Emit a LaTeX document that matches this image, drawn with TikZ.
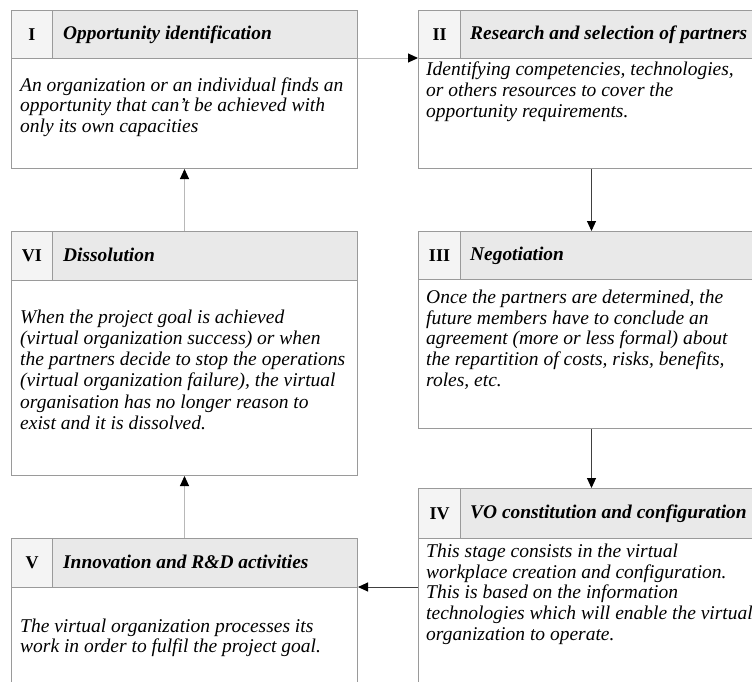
\documentclass[tikz,border=0pt]{standalone}
\usepackage{fontspec}
\setmainfont{Liberation Serif}
\usetikzlibrary{arrows.meta}
\definecolor{frame}{HTML}{9A9A9A}
\definecolor{numfill}{HTML}{F4F4F4}
\definecolor{titlefill}{HTML}{E9E9E9}
\definecolor{linklight}{HTML}{B8B8B8}
\definecolor{linkdark}{HTML}{404040}
\tikzset{
  cell/.style={draw=frame, line width=1pt, anchor=north west, inner sep=0pt},
  numcell/.style={cell, fill=numfill, minimum width=41pt, minimum height=48pt,
    font=\fontsize{18}{20}\selectfont\bfseries},
  titlecell/.style={cell, fill=titlefill, minimum width=305pt, minimum height=48pt},
  bodycell/.style={cell, fill=white, minimum width=346pt},
  titletext/.style={anchor=base west, inner sep=0pt,
    font=\fontsize{19.4}{22}\selectfont\bfseries\itshape},
  % multi-line text: the base anchor sits on the last line
  bodytext/.style={anchor=base west, inner sep=0pt, align=left,
    font=\fontsize{19.5}{20.6}\selectfont\itshape},
  link/.style={line width=1pt, -{Triangle[length=10pt,width=9pt,color=black]}},
  lightlink/.style={link, draw=linklight},
  darklink/.style={link, draw=linkdark},
}
\begin{document}
\begin{tikzpicture}[x=1pt,y=-1pt]
\useasboundingbox (0,0) rectangle (752,681);
\clip (0,0) rectangle (752,681);

% I  Opportunity identification
\node[bodycell, minimum height=110pt] (b1) at (11,58) {};
\node[titlecell] (t1) at (52,10) {};
\node[numcell] (n1) at (11,10) {I};
\node[titletext] at (63,39) {Opportunity identification};
\node[bodytext] at (20,132.2) {An organization or an individual finds an\\opportunity that can't be achieved with\\only its own capacities};

% II  Research and selection of partners
\node[bodycell, minimum height=110pt] (b2) at (418,58) {};
\node[titlecell] (t2) at (460,10) {};
\node[numcell, minimum width=42pt] (n2) at (418,10) {II};
\node[titletext] at (470,39) {Research and selection of partners};
\node[bodytext] at (426,117) {Identifying competencies, technologies,\\or others resources to cover the\\opportunity requirements.};

% III  Negotiation
\node[bodycell, minimum height=149pt] (b3) at (418,279) {};
\node[titlecell] (t3) at (460,231) {};
\node[numcell, minimum width=42pt] (n3) at (418,231) {III};
\node[titletext] at (470,260) {Negotiation};
\node[bodytext] at (426,386) {Once the partners are determined, the\\future members have to conclude an\\agreement (more or less formal) about\\the repartition of costs, risks, benefits,\\roles, etc.};

% IV  VO constitution and configuration
\node[bodycell, minimum height=160pt] (b4) at (418,538) {};
\node[titlecell, minimum height=50pt] (t4) at (460,488) {};
\node[numcell, minimum width=42pt, minimum height=50pt] (n4) at (418,488) {IV};
\node[titletext] at (470,518) {VO constitution and configuration};
\node[bodytext] at (426,640) {This stage consists in the virtual\\workplace creation and configuration.\\This is based on the information\\technologies which will enable the virtual\\organization to operate.};

% V  Innovation and R&D activities
\node[bodycell, minimum height=110pt] (b5) at (11,587) {};
\node[titlecell, minimum height=49pt] (t5) at (52,538) {};
\node[numcell, minimum height=49pt] (n5) at (11,538) {V};
\node[titletext] at (63,568) {Innovation and R\&D activities};
\node[bodytext] at (20,652.6) {The virtual organization processes its\\work in order to fulfil the project goal.};

% VI  Dissolution
\node[bodycell, minimum height=195pt] (b6) at (11,280) {};
\node[titlecell, minimum height=49pt] (t6) at (52,231) {};
\node[numcell, minimum height=49pt] (n6) at (11,231) {VI};
\node[titletext] at (63,261) {Dissolution};
\node[bodytext, font=\fontsize{19.5}{21.3}\selectfont\itshape] at (20,429.5) {When the project goal is achieved\\(virtual organization success) or when\\the partners decide to stop the operations\\(virtual organization failure), the virtual\\organisation has no longer reason to\\exist and it is dissolved.};

% stage sequence
\draw[lightlink] (b1.north east) -- (b2.north west);
\draw[darklink] (b2.south) -- (n3.north -| b2.south);
\draw[darklink] (b3.south) -- (n4.north -| b3.south);
\draw[darklink] (b5.north east -| b4.west) -- (b5.north east);
\draw[lightlink] (n5.north -| b5.north) -- (b6.south);
\draw[lightlink] (n6.north -| b6.north) -- (b1.south);
\end{tikzpicture}
\end{document}
